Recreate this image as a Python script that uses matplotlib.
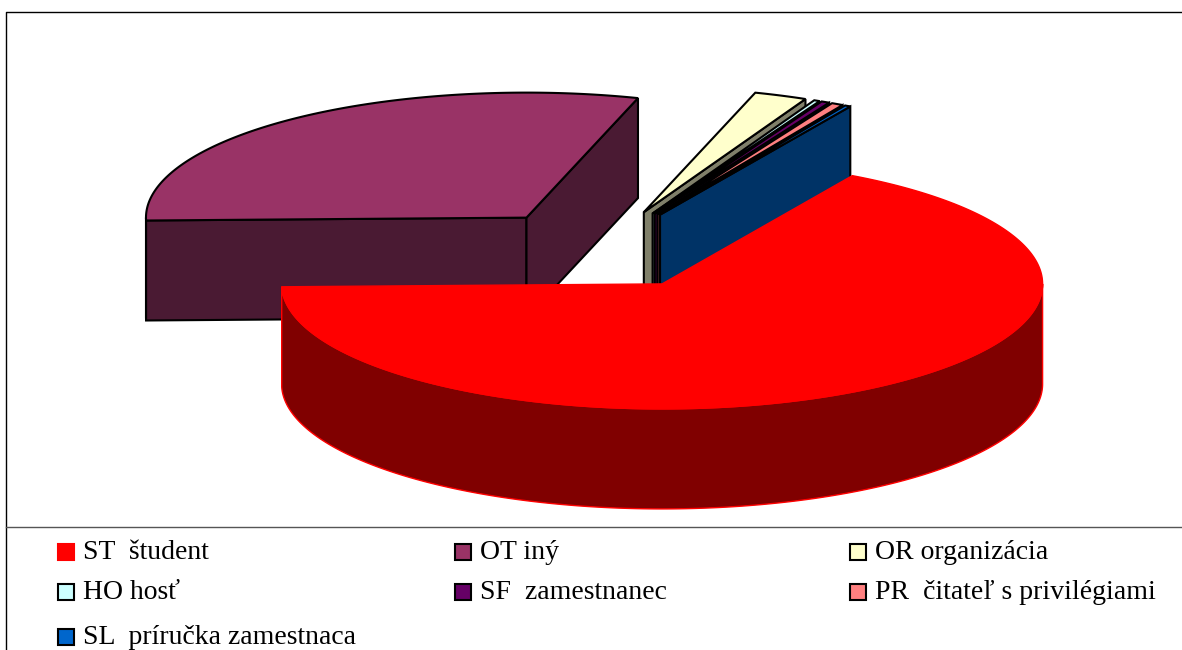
import numpy as np
import matplotlib
matplotlib.use("Agg")
import matplotlib.pyplot as plt
from matplotlib.patches import Polygon, Rectangle

# -----data (percent)------------------------------
labels = ["ST  študent", "OT iný", "OR organizácia", "HO hosť", "SF  zamestnanec",
          "PR  čitateľ s privilégiami", "SL  príručka zamestnaca"]
shares = [66.3, 30.1, 2.25, 0.25, 0.35, 0.5, 0.25]
top_colors = ["#FF0000", "#993366", "#FFFFCC", "#CCFFFF", "#660066", "#FF8080", "#0066CC"]
side_colors = ["#800000", "#4A1A33", "#80806A", "#668080", "#330033", "#804040", "#003366"]
edge_colors = ["#FF0000", "black", "black", "black", "black", "black", "black"]

# pie geometry in pixels
cx0, cy0 = 600, 249.5
rx, ry = 380.5, 125
depth = 100
explode = 0.32
start_angle = 30


def rim(cx, cy, a, b):
    t = np.radians(np.linspace(a, b, max(int(abs(b - a) * 2), 2)))
    return np.column_stack([cx + rx * np.sin(t), cy - ry * np.cos(t)])


def draw_wedge(ax, a, b, top, side, edge, lw, z):
    mid = np.radians((a + b) / 2)
    cx = cx0 + explode * rx * np.sin(mid)
    cy = cy0 - explode * ry * np.cos(mid)
    down = np.array([0, depth])
    centre = np.array([[cx, cy]])

    # outer wall, only the front half of the ellipse can be seen
    lo, hi = max(a, 90), min(b, 270)
    if hi > lo:
        r = rim(cx, cy, lo, hi)
        ax.add_patch(Polygon(np.vstack([r, (r + down)[::-1]]), fc=side, ec=edge, lw=lw, zorder=z))
    # flat cut walls
    if np.sin(np.radians(a)) < 0:
        p = rim(cx, cy, a, a + 0.01)[:1]
        ax.add_patch(Polygon(np.vstack([centre, p, p + down, centre + down]), fc=side, ec=edge, lw=lw, zorder=z))
    if np.sin(np.radians(b)) > 0:
        p = rim(cx, cy, b, b + 0.01)[:1]
        ax.add_patch(Polygon(np.vstack([centre, p, p + down, centre + down]), fc=side, ec=edge, lw=lw, zorder=z))
    ax.add_patch(Polygon(np.vstack([centre, rim(cx, cy, a, b)]), fc=top, ec=edge, lw=lw, zorder=z))


plt.rcParams["font.family"] = ["Liberation Serif", "DejaVu Sans"]
fig = plt.figure(figsize=(11.82, 6.5), dpi=100)
ax = fig.add_axes([0, 0, 1, 1])
ax.set_xlim(0, 1182)
ax.set_ylim(650, 0)
ax.axis("off")

# frame, open on the right side
ax.plot([6, 6, 1182], [650, 12, 12], color="black", lw=1)
ax.plot([6, 1182], [527, 527], color="#555555", lw=1)

# slices, red one goes last because it sits in front
angles = start_angle + np.cumsum([0] + shares) * 3.6
for i in [1, 2, 3, 4, 5, 6, 0]:
    lw = 1 if i == 0 else 1.5
    draw_wedge(ax, angles[i], angles[i + 1], top_colors[i], side_colors[i], edge_colors[i], lw, 3 + (i + 6) % 7)

# legend
col_x = [58, 455, 850]
row_y = [559, 599, 644]
for i, lab in enumerate(labels):
    x = col_x[i % 3]
    y = row_y[i // 3]
    ec = "#FF0000" if i == 0 else "black"
    ax.add_patch(Rectangle((x, y - 15), 16, 16, fc=top_colors[i], ec=ec, lw=1.5))
    ax.text(x + 25, y, lab, fontsize=20, va="baseline", ha="left")

fig.savefig("out.png", dpi=100)
